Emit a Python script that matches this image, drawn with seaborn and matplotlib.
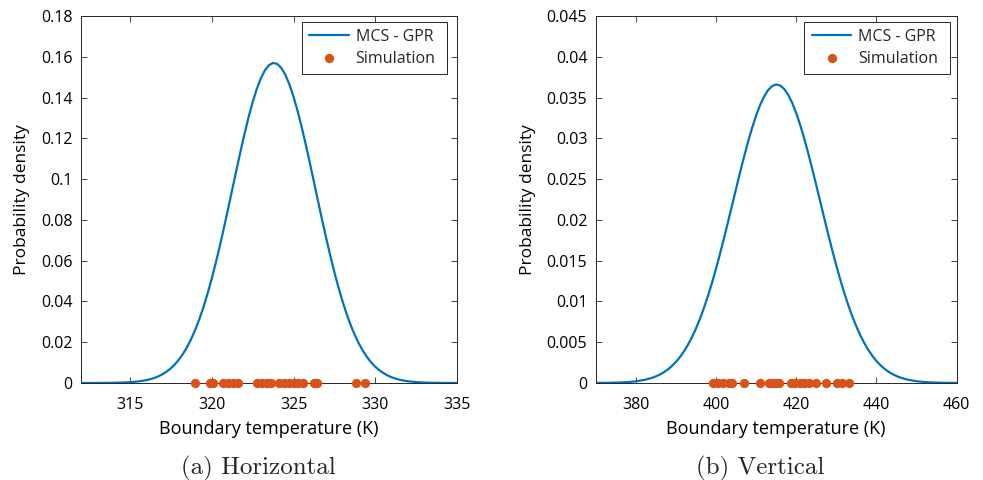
import numpy as np
import pandas as pd
import matplotlib
matplotlib.use("Agg")
import matplotlib.pyplot as plt
import seaborn as sns

# ---- Panel (a) Horizontal : MCS-GPR density curve ----
h_temp = [312.0, 312.5, 313.0, 313.5, 314.0, 314.5, 315.0, 315.5,
          316.0, 316.25, 316.5, 316.75, 317.0, 317.25, 317.5, 317.75,
          318.0, 318.25, 318.5, 318.75, 319.0, 319.25, 319.5, 319.75,
          320.0, 320.25, 320.5, 320.75, 321.0, 321.25, 321.5, 321.75,
          322.0, 322.25, 322.5, 322.75, 323.0, 323.25, 323.5, 323.75,
          324.0, 324.25, 324.5, 324.75, 325.0, 325.25, 325.5, 325.75,
          326.0, 326.25, 326.5, 326.75, 327.0, 327.25, 327.5, 327.75,
          328.0, 328.25, 328.5, 328.75, 329.0, 329.25, 329.5, 329.75,
          330.0, 330.25, 330.5, 330.75, 331.0, 331.25, 331.5, 331.75,
          332.0, 332.5, 333.0, 333.5, 334.0, 334.5, 335.0]
h_pdf = [0.000003, 0.000008, 0.000019, 0.000042, 0.000092, 0.000193, 0.000389, 0.000754,
         0.001406, 0.001893, 0.002524, 0.003333, 0.004360, 0.005646, 0.007244, 0.009200,
         0.011577, 0.014426, 0.017801, 0.021754, 0.026322, 0.031555, 0.037458, 0.044037,
         0.051275, 0.059121, 0.067508, 0.076345, 0.085511, 0.094845, 0.104193, 0.113352,
         0.122134, 0.130328, 0.137723, 0.144142, 0.149403, 0.153362, 0.155909, 0.156970,
         0.156514, 0.154555, 0.151150, 0.146394, 0.140420, 0.133392, 0.125496, 0.116927,
         0.107891, 0.098597, 0.089234, 0.079981, 0.070996, 0.062413, 0.054341, 0.046855,
         0.040013, 0.033837, 0.028339, 0.023508, 0.019311, 0.015709, 0.012656, 0.010099,
         0.007980, 0.006245, 0.004841, 0.003716, 0.002825, 0.002128, 0.001586, 0.001172,
         0.000856, 0.000440, 0.000220, 0.000110, 0.000050, 0.000020, 0.000010]
h_sim = [319.0, 319.9, 320.1, 320.7, 321.0, 321.3, 321.6, 322.75, 323.05, 323.4,
         323.6, 324.1, 324.4, 324.7, 325.0, 325.3, 325.6, 326.25, 326.45, 328.85, 329.35]

# ---- Panel (b) Vertical ----
v_temp = [370, 372, 374, 376, 378, 380, 382,
          384, 385, 386, 387, 388, 389, 390, 391, 392, 393, 394, 395, 396, 397, 398, 399,
          400, 401, 402, 403, 404, 405, 406, 407, 408, 409, 410, 411, 412, 413, 414, 415,
          416, 417, 418, 419, 420, 421, 422, 423, 424, 425, 426, 427, 428, 429, 430, 431,
          432, 433, 434, 435, 436, 437, 438, 439, 440, 441, 442, 443, 444, 445, 446, 447,
          448, 450, 452, 454, 456, 458, 460]
v_pdf = [0.000007, 0.000015, 0.000030, 0.000059, 0.000112, 0.000205, 0.000364,
         0.000625, 0.000808, 0.001037, 0.001319, 0.001664, 0.002082, 0.002582, 0.003176,
         0.003874, 0.004686, 0.005621, 0.006685, 0.007884, 0.009220, 0.010692, 0.012295,
         0.014020, 0.015853, 0.017776, 0.019765, 0.021792, 0.023825, 0.025830, 0.027770,
         0.029604, 0.031295, 0.032805, 0.034100, 0.035149, 0.035927, 0.036414, 0.036598,
         0.036475, 0.036048, 0.035327, 0.034331, 0.033083, 0.031612, 0.029955, 0.028146,
         0.026225, 0.024230, 0.022199, 0.020168, 0.018169, 0.016231, 0.014379, 0.012631,
         0.011002, 0.009503, 0.008140, 0.006914, 0.005823, 0.004863, 0.004027, 0.003307,
         0.002693, 0.002175, 0.001742, 0.001383, 0.001089, 0.000850, 0.000658, 0.000505,
         0.000385, 0.000217, 0.000119, 0.000063, 0.000032, 0.000016, 0.000008]
v_sim = [399.35, 400.4, 401.65, 403.15, 404.0, 407.05, 410.95, 413.1, 414.1, 415.05,
         415.75, 418.65, 419.7, 420.85, 421.95, 423.2, 424.85, 427.3, 430.05, 431.3, 433.1]

LINE_C = "#0072BD"
DOT_C = "#D95319"
AX_C = "#262626"

sns.set_theme(style="ticks")
plt.rcParams["font.family"] = ["Open Sans", "DejaVu Sans"]

W, H = 983, 480
fig = plt.figure(figsize=(9.83, 4.8), dpi=100)
ax1 = fig.add_axes([81 / W, 1 - 383 / H, 376 / W, 367 / H])
ax2 = fig.add_axes([595.7 / W, 1 - 383 / H, 361 / W, 367 / H])

panels = [
    (ax1, h_temp, h_pdf, h_sim, (312, 335), [315, 320, 325, 330, 335],
     (0, 0.18), np.arange(0, 0.181, 0.02),
     ["0", "0.02", "0.04", "0.06", "0.08", "0.1", "0.12", "0.14", "0.16", "0.18"],
     "(a) Horizontal", 258, (0.588, 0.847, 0.385, 0.137)),
    (ax2, v_temp, v_pdf, v_sim, (370, 460), [380, 400, 420, 440, 460],
     (0, 0.045), np.arange(0, 0.0451, 0.005),
     ["0", "0.005", "0.01", "0.015", "0.02", "0.025", "0.03", "0.035", "0.04", "0.045"],
     "(b) Vertical", 760, (0.578, 0.847, 0.403, 0.137)),
]

for ax, tx, py, sim, xl, xt, yl, yt, ytl, cap, capx, legbox in panels:
    curve = pd.DataFrame({"T": tx, "p": py})
    pts = pd.DataFrame({"T": sim, "p": [0.0] * len(sim)})
    sns.lineplot(data=curve, x="T", y="p", ax=ax, color=LINE_C, linewidth=1.6,
                 label="MCS - GPR", zorder=3)
    sns.scatterplot(data=pts, x="T", y="p", ax=ax, color=DOT_C, s=45, linewidth=0,
                    label="Simulation", zorder=4, clip_on=False)
    ax.set_xlim(*xl)
    ax.set_ylim(*yl)
    ax.set_xticks(xt)
    ax.set_xticklabels([str(v) for v in xt])
    ax.set_yticks(yt)
    ax.set_yticklabels(ytl)
    ax.tick_params(direction="in", length=4, width=0.6, colors=AX_C, labelsize=11.5,
                   top=True, right=True, labelcolor="black")
    ax.tick_params(axis="x", pad=10)
    ax.tick_params(axis="y", pad=6)
    for s in ax.spines.values():
        s.set_visible(True)
        s.set_color(AX_C)
        s.set_linewidth(0.7)
    ax.set_xlabel("Boundary temperature (K)", fontsize=13, color="black", labelpad=5)
    ax.set_ylabel("Probability density", fontsize=12.5, color="black", labelpad=8)
    leg = ax.legend(loc="upper left", bbox_to_anchor=legbox, mode="expand",
                    borderaxespad=0, fontsize=11.5, frameon=True, fancybox=False,
                    edgecolor=AX_C, framealpha=1, handlelength=2.5,
                    handletextpad=0.4, borderpad=0.45, labelspacing=0.35)
    leg.get_frame().set_linewidth(0.7)
    fig.text(capx / W, 1 - 474 / H, cap, ha="center", va="baseline",
             fontsize=18, family=["cmr10", "DejaVu Serif"])

fig.savefig("out.png", dpi=100)
